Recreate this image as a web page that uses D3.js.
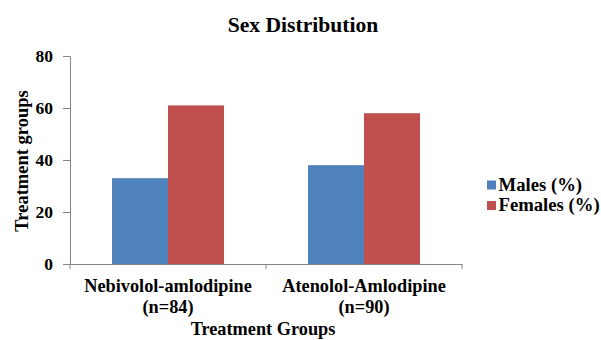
<!DOCTYPE html>
<html><head><meta charset="utf-8">
<script src="https://cdn.jsdelivr.net/npm/d3@7"></script>
<style>body{margin:0;background:#fff}svg{display:block}</style>
</head><body>
<script>
const categories = ["Nebivolol-amlodipine|(n=84)", "Atenolol-Amlodipine|(n=90)"];
const seriesNames = ["Males (%)", "Females (%)"];
const males = [33, 38];
const females = [61, 58];
const yTicks = [0, 20, 40, 60, 80];
const colors = ["#4F81BD", "#C0504D"];

const FONT = "'Liberation Serif', 'Times New Roman', Times, serif";
const W = 601, H = 340;
const svg = d3.select("body").append("svg").attr("width", W).attr("height", H)
  .attr("font-family", FONT).attr("font-weight", "bold");
const m = {left: 70, right: 462, top: 56, bottom: 264};

const x0 = d3.scaleBand().domain(categories).range([m.left, m.right]).padding(0);
const x1 = d3.scaleBand().domain(seriesNames).range([0, x0.bandwidth()]).paddingInner(0).paddingOuter(0.75);
const y = d3.scaleLinear().domain([0, 80]).range([m.bottom, m.top]);

const data = categories.map((c, i) => ({cat: c, vals: [males[i], females[i]]}));

const g = svg.append("g");
data.forEach(d => {
  d.vals.forEach((v, j) => {
    g.append("rect")
      .attr("x", x0(d.cat) + x1(seriesNames[j]))
      .attr("y", y(v))
      .attr("width", x1.bandwidth())
      .attr("height", y(0) - y(v))
      .attr("fill", colors[j]);
  });
});

const yAxis = svg.append("g").attr("transform", `translate(${m.left},0)`)
  .call(d3.axisLeft(y).tickValues(yTicks).tickSize(7).tickPadding(10));
yAxis.attr("font-family", FONT).attr("font-size", 17.5);
yAxis.select(".domain").attr("stroke", "#868686");
yAxis.selectAll(".tick line").attr("stroke", "#868686");
yAxis.selectAll("text").attr("font-weight", "bold").attr("fill", "#000");

const xAxis = svg.append("g").attr("transform", `translate(0,${m.bottom})`)
  .call(d3.axisBottom(x0).tickSize(0).tickFormat(""));
xAxis.select(".domain").attr("stroke", "#868686");
const xTickPos = [m.left].concat(categories.map(c => x0(c) + x0.bandwidth()));
xTickPos.forEach(p => {
  svg.append("line").attr("x1", p).attr("x2", p).attr("y1", m.bottom).attr("y2", m.bottom + 5).attr("stroke", "#868686");
});
categories.forEach(c => {
  const lines = c.split("|");
  const cx = x0(c) + x0.bandwidth() / 2;
  lines.forEach((l, k) => {
    svg.append("text").attr("x", cx).attr("y", 291.5 + k * 21).attr("text-anchor", "middle")
      .attr("font-size", 18.3).text(l);
  });
});

svg.append("text").attr("x", 303).attr("y", 31.5).attr("text-anchor", "middle").attr("font-size", 21.6).text("Sex Distribution");
svg.append("text").attr("x", 263).attr("y", 335).attr("text-anchor", "middle").attr("font-size", 18.3).text("Treatment Groups");
svg.append("text").attr("transform", "translate(27.5,161) rotate(-90)").attr("text-anchor", "middle").attr("font-size", 18.5).text("Treatment groups");

seriesNames.forEach((s, j) => {
  const ly = 190.5 + j * 20.5;
  svg.append("rect").attr("x", 487).attr("y", ly - 10).attr("width", 9).attr("height", 9).attr("fill", colors[j]);
  svg.append("text").attr("x", 498.5).attr("y", ly).attr("font-size", 18.7).text(s);
});
</script>
</body></html>
